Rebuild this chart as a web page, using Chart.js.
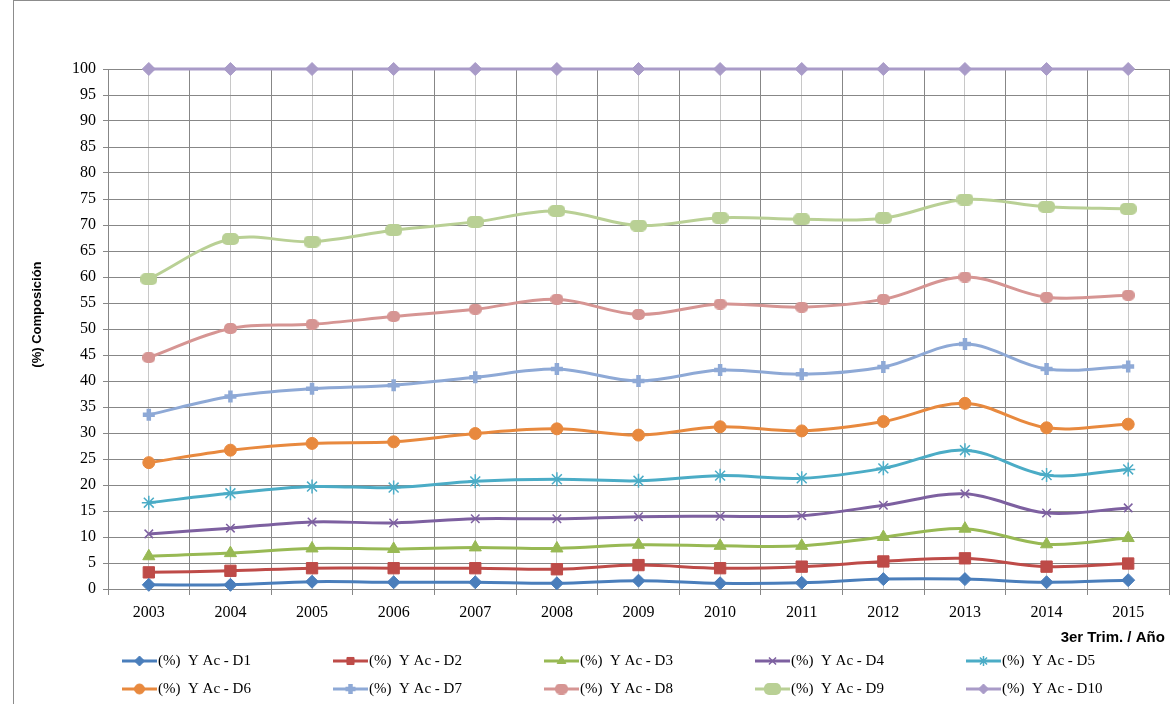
<!DOCTYPE html>
<html>
<head>
<meta charset="utf-8">
<script src="https://cdn.jsdelivr.net/npm/chart.js@4.4.1/dist/chart.umd.min.js"></script>
<style>
  html, body { margin: 0; padding: 0; background: #fff; }
  #wrap { width: 1170px; height: 704px; }
</style>
</head>
<body>
<div id="wrap"><canvas id="chart" width="1170" height="704"></canvas></div>
<script>
// categorías (años)
const years = ['2003', '2004', '2005', '2006', '2007', '2008', '2009', '2010', '2011', '2012', '2013', '2014', '2015'];

// valores de cada serie (% acumulado por decil)
const d1 = [0.8, 0.8, 1.4, 1.3, 1.3, 1.1, 1.6, 1.1, 1.2, 1.9, 1.9, 1.3, 1.7];
const d2 = [3.2, 3.5, 4.0, 4.0, 4.0, 3.8, 4.6, 4.0, 4.3, 5.3, 5.9, 4.3, 4.9];
const d3 = [6.3, 6.9, 7.8, 7.7, 8.0, 7.8, 8.5, 8.3, 8.3, 10.0, 11.6, 8.6, 9.8];
const d4 = [10.6, 11.7, 12.9, 12.7, 13.5, 13.5, 13.9, 14.0, 14.1, 16.1, 18.3, 14.6, 15.6];
const d5 = [16.6, 18.4, 19.7, 19.5, 20.7, 21.1, 20.8, 21.8, 21.3, 23.2, 26.7, 21.9, 23.0];
const d6 = [24.3, 26.7, 28.0, 28.3, 29.9, 30.8, 29.6, 31.2, 30.4, 32.2, 35.7, 31.0, 31.7];
const d7 = [33.5, 37.0, 38.5, 39.2, 40.7, 42.3, 40.0, 42.1, 41.3, 42.7, 47.1, 42.3, 42.8];
const d8 = [44.5, 50.1, 50.9, 52.4, 53.8, 55.7, 52.8, 54.8, 54.2, 55.7, 60.0, 56.1, 56.5];
const d9 = [59.6, 67.3, 66.8, 69.0, 70.6, 72.7, 69.9, 71.4, 71.1, 71.3, 74.9, 73.5, 73.1];
const d10 = [100, 100, 100, 100, 100, 100, 100, 100, 100, 100, 100, 100, 100];

const seriesNames = ['(%)  Y Ac - D1', '(%)  Y Ac - D2', '(%)  Y Ac - D3', '(%)  Y Ac - D4', '(%)  Y Ac - D5',
                     '(%)  Y Ac - D6', '(%)  Y Ac - D7', '(%)  Y Ac - D8', '(%)  Y Ac - D9', '(%)  Y Ac - D10'];

const serifFont = "'Liberation Serif', 'Times New Roman', serif";
const sansFont = "'Liberation Sans', Arial, sans-serif";

// marcador rectangular redondeado (como en Excel)
function roundMarker(w, h, r, color) {
    const c = document.createElement('canvas');
    c.width = w; c.height = h;
    const g = c.getContext('2d');
    g.fillStyle = color;
    g.beginPath();
    g.roundRect(0, 0, w, h, r);
    g.fill();
    return c;
}

function serie(label, data, color, style, radius, bw) {
    return {
        label: label,
        data: data,
        borderColor: color,
        backgroundColor: color,
        borderWidth: 3,
        pointStyle: style,
        pointRadius: radius,
        pointHoverRadius: radius,
        pointBorderWidth: bw,
        pointBackgroundColor: color,
        pointBorderColor: color,
        tension: 0.35,
        clip: false
    };
}

const datasets = [
    serie(seriesNames[0], d1, '#4A7EBB', 'rectRot', 6.5, 1),
    serie(seriesNames[1], d2, '#BE4B48', 'rect', 8, 1),
    serie(seriesNames[2], d3, '#98B954', 'triangle', 7, 1),
    serie(seriesNames[3], d4, '#7D60A0', 'crossRot', 6, 1.5),
    serie(seriesNames[4], d5, '#4BACC6', 'star', 7, 1.5),
    serie(seriesNames[5], d6, '#E8893E', 'circle', 6, 1),
    serie(seriesNames[6], d7, '#8EA9D6', 'cross', 6, 4.5),
    serie(seriesNames[7], d8, '#D69593', roundMarker(13, 11, 5, '#D69593'), 6, 1),
    serie(seriesNames[8], d9, '#B9D095', roundMarker(17, 12, 5, '#B9D095'), 7, 1),
    serie(seriesNames[9], d10, '#A99BC8', 'rectRot', 6.5, 1)
];

// marco exterior del gráfico
const frame = {
    id: 'frame',
    beforeDraw(chart) {
        const ctx = chart.ctx;
        ctx.save();
        ctx.strokeStyle = '#8c8c8c';
        ctx.lineWidth = 1;
        ctx.strokeRect(13.5, 0.5, 1300, 800);
        ctx.restore();
    }
};

// leyenda estilo Excel: línea + marcador
const lineLegend = {
    id: 'lineLegend',
    afterDraw(chart) {
        const ctx = chart.ctx;
        ctx.save();
        chart.data.datasets.forEach((ds, i) => {
            const x0 = 122 + (i % 5) * 211;
            const y = 661 + Math.floor(i / 5) * 28;
            ctx.strokeStyle = ds.borderColor;
            ctx.lineWidth = 3;
            ctx.beginPath();
            ctx.moveTo(x0, y);
            ctx.lineTo(x0 + 35, y);
            ctx.stroke();
            ctx.fillStyle = ds.pointBackgroundColor;
            ctx.strokeStyle = ds.pointBorderColor;
            ctx.lineWidth = ds.pointBorderWidth;
            Chart.helpers.drawPoint(ctx, {
                pointStyle: ds.pointStyle,
                radius: Math.min(ds.pointRadius, 5),
                borderWidth: ds.pointBorderWidth,
                rotation: 0
            }, x0 + 17.5, y);
            ctx.fillStyle = '#000';
            ctx.font = '15px ' + serifFont;
            ctx.textAlign = 'left';
            ctx.textBaseline = 'middle';
            ctx.fillText(ds.label, x0 + 36, y);
        });
        ctx.restore();
    }
};

const ctx = document.getElementById('chart').getContext('2d');
new Chart(ctx, {
    type: 'line',
    data: { labels: years, datasets: datasets },
    options: {
        responsive: false,
        animation: false,
        layout: { autoPadding: false, padding: { left: 14, top: 69, right: 1, bottom: 55 } },
        plugins: {
            legend: { display: false },
            tooltip: { enabled: false }
        },
        scales: {
            x: {
                type: 'category',
                offset: true,
                afterFit(scale) {
                    scale.height = 60;
                    scale.paddingLeft = 0;
                    scale.paddingRight = 0;
                },
                grid: {
                    offset: true,
                    color: '#878787',
                    tickColor: '#878787',
                    tickLength: 6,
                    lineWidth: 1
                },
                border: { color: '#878787' },
                ticks: {
                    color: '#000',
                    padding: 8,
                    maxRotation: 0,
                    autoSkip: false,
                    font: { family: serifFont, size: 16 }
                },
                title: {
                    display: true,
                    text: '3er Trim. / Año ',
                    align: 'end',
                    color: '#000',
                    padding: { top: 0, bottom: 2 },
                    font: { family: sansFont, size: 15, weight: 'bold' }
                }
            },
            // líneas verticales claras en cada categoría
            xc: {
                type: 'category',
                labels: years,
                position: 'top',
                offset: true,
                afterFit(scale) {
                    scale.height = 0;
                    scale.paddingLeft = 0;
                    scale.paddingRight = 0;
                },
                grid: { offset: false, color: '#c8c8c8', drawTicks: false, lineWidth: 1 },
                border: { display: false },
                ticks: { display: false }
            },
            y: {
                min: 0,
                max: 100,
                afterFit(scale) { scale.width = 94; },
                grid: {
                    color: '#878787',
                    tickColor: '#878787',
                    tickLength: 5,
                    lineWidth: 1
                },
                border: { color: '#878787' },
                ticks: {
                    stepSize: 5,
                    autoSkip: false,
                    color: '#000',
                    padding: 7,
                    font: { family: serifFont, size: 16 }
                },
                title: {
                    display: true,
                    text: '        (%) Composición',
                    color: '#000',
                    padding: { top: 16, bottom: 0 },
                    font: { family: sansFont, size: 13, weight: 'bold' }
                }
            }
        }
    },
    plugins: [frame, lineLegend]
});
</script>
</body>
</html>
